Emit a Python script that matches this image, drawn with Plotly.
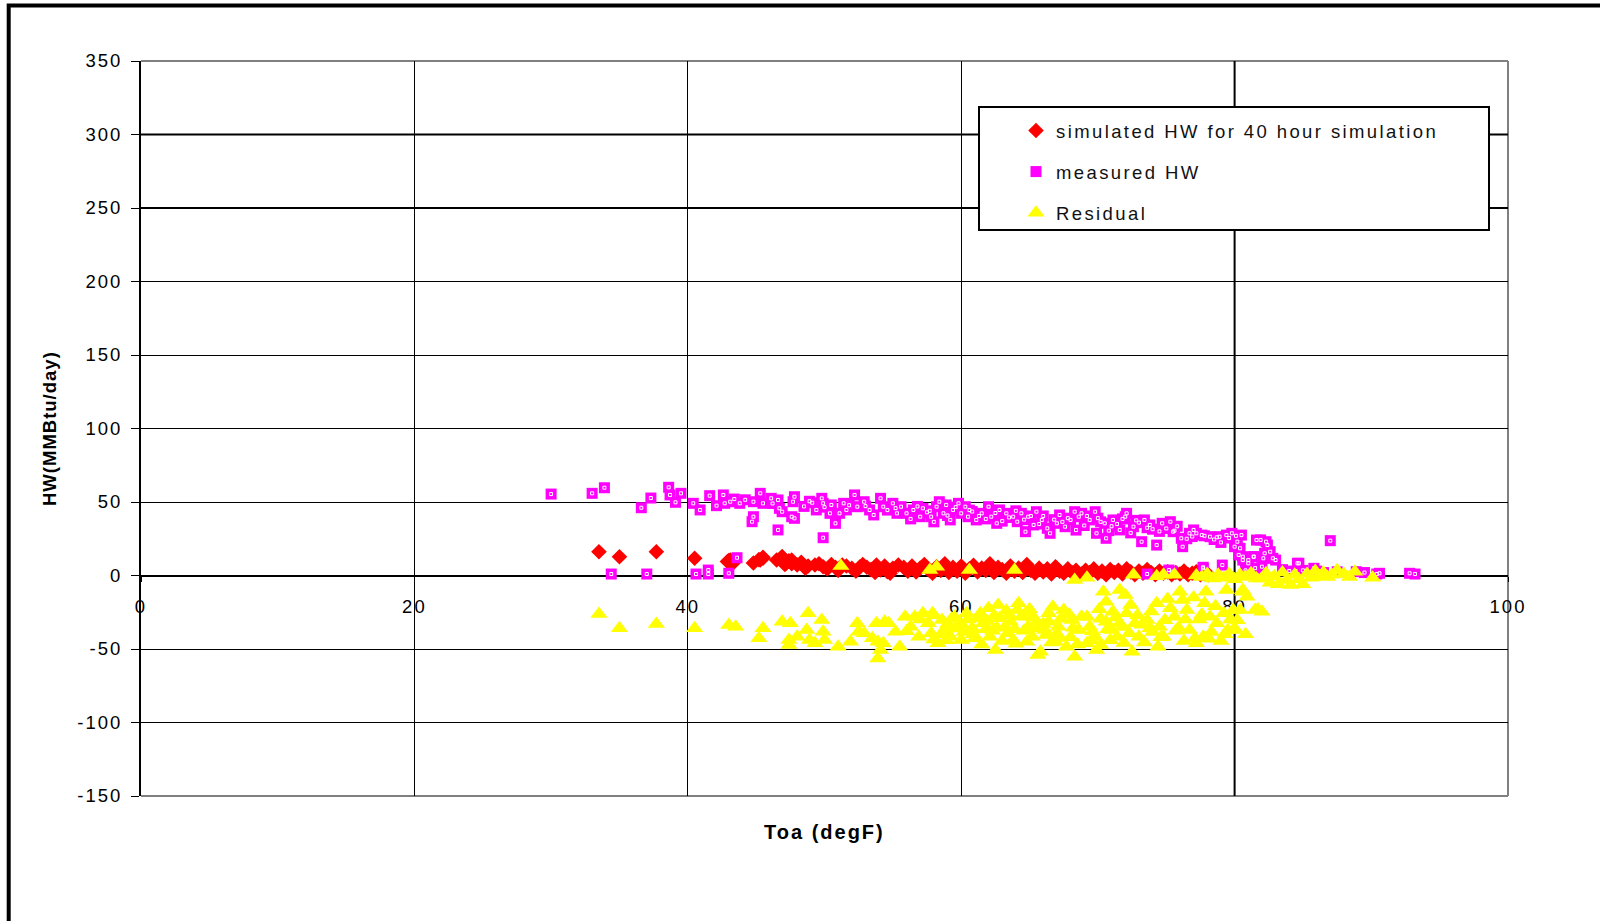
import plotly.graph_objects as go

# Simulated hot-water use (MMBtu/day) vs outdoor air temperature (degF)
sim_x = [33.5, 35.0, 37.7, 40.5, 42.9, 43.0, 43.1, 43.3, 44.8, 45.2, 45.3, 45.5, 45.5, 46.5, 46.9, 46.9,
         47.1, 47.2, 47.4, 47.6, 47.6, 48.0, 48.3, 48.6, 48.8, 49.3, 49.6, 49.9, 50.2, 50.5, 50.8, 51.0,
         51.3, 51.6, 52.0, 52.3, 52.6, 52.8, 53.1, 53.4, 53.7, 53.8, 54.1, 54.4, 54.6, 54.8, 55.0, 55.4,
         55.8, 56.1, 56.4, 56.7, 57.0, 57.3, 57.6, 57.9, 58.2, 58.5, 58.8, 59.1, 59.4, 59.7, 60.0, 60.3,
         60.6, 60.9, 61.2, 61.5, 61.8, 62.1, 62.4, 62.7, 63.0, 63.3, 63.6, 63.9, 64.2, 64.5, 64.8, 65.1,
         65.4, 65.7, 66.0, 66.3, 66.6, 66.9, 67.2, 67.5, 67.8, 68.1, 68.4, 68.8, 69.1, 69.4, 69.7, 70.0,
         70.3, 70.6, 70.9, 71.2, 71.5, 71.8, 72.1, 72.4, 72.7, 73.0, 73.3, 73.6, 73.9, 74.2, 74.5, 74.8,
         75.1, 75.4, 75.7, 76.0, 76.3, 76.6, 76.9, 77.2, 77.5, 77.8, 78.1]
sim_y = [16.2, 12.8, 16.2, 11.7, 9.5, 10.1, 10.5, 8.3, 8.5, 10.8, 10.5, 11.7, 12.4, 10.5, 12.8, 12.8,
         7.5, 8.3, 10.0, 8.0, 10.5, 7.1, 9.0, 5.0, 6.5, 7.1, 8.0, 6.0, 4.5, 7.5, 5.5, 3.5,
         7.1, 6.5, 4.9, 3.0, 6.0, 7.5, 5.6, 4.0, 2.0, 7.1, 3.8, 6.5, 2.6, 1.5, 4.9, 7.1,
         5.5, 3.0, 6.5, 2.5, 5.0, 7.5, 4.0, 1.5, 6.0, 3.5, 8.0, 2.0, 5.5, 3.0, 6.5, 1.5,
         4.5, 7.0, 2.5, 5.0, 3.5, 8.0, 2.0, 5.5, 4.0, 1.5, 6.5, 3.0, 5.0, 2.0, 7.5, 3.5,
         1.5, 5.0, 2.5, 4.5, 1.0, 6.0, 3.0, 1.5, 4.5, 2.0, 3.5, 1.0, 3.5, 2.0, 4.5, 1.5,
         3.0, 0.5, 4.0, 2.0, 3.5, 1.0, 4.5, 2.5, 0.5, 3.0, 1.5, 4.0, 2.0, 0.5, 3.0, 1.5,
         2.5, 0.5, 2.0, 1.0, 3.0, 0.5, 1.5, 2.5, 0.5, 1.5, 0.5]

# Measured hot-water use (MMBtu/day)
meas_x = [30.0, 33.0, 33.9, 36.6, 37.3, 38.6, 38.7, 39.1, 39.5, 40.4, 40.9, 41.6, 42.1,
          34.4, 37.0, 40.6, 41.5, 41.5, 43.0, 43.6,
          42.6, 42.7, 43.1, 43.8, 44.8, 45.3, 45.5, 46.1, 46.6, 46.7, 46.9, 47.7, 47.8, 47.6, 47.8,
          49.1, 49.4, 49.8, 49.9, 50.5, 50.4, 50.8, 51.1, 51.4, 51.6, 52.2, 52.4, 52.9, 53.3, 53.6,
          54.1, 54.3, 55.0, 55.3, 44.7, 44.8, 46.6, 49.9,
          43.4, 44.2, 46.2, 48.5, 48.9, 50.0, 51.8, 53.0, 54.6, 55.2,
          55.6, 56.0, 56.5, 57.0, 57.2, 57.8, 58.2, 58.4, 58.7, 58.9, 59.2, 59.4, 59.8, 60.0, 60.3,
          60.5, 61.1, 61.5, 62.0, 62.2, 62.6, 62.8, 63.3, 63.8, 64.1, 64.4, 64.7, 64.9, 65.3, 65.5,
          65.9, 66.3, 66.5, 67.0, 67.2, 67.6, 68.0, 68.3, 68.4,
          56.3, 57.5, 58.0, 59.0, 60.8, 61.8, 63.0, 64.0, 66.0, 67.8,
          56.8, 57.7, 59.6, 60.6, 61.3, 62.5, 63.5, 64.6, 65.1, 65.7, 66.8, 67.4, 68.6,
          68.8, 69.4, 69.8, 69.9, 70.5, 70.6, 71.1, 71.6, 72.0, 72.1, 72.6, 73.2, 73.4, 73.8, 74.3,
          74.7, 75.3, 75.5, 76.1, 76.2, 76.7, 77.2, 77.6, 78.2, 78.9, 79.4, 79.8, 80.0, 80.3, 80.5,
          80.6, 81.0, 81.4, 81.6,
          69.0, 70.0, 70.8, 71.4, 72.4, 73.0, 74.0, 75.0, 75.8, 76.5, 77.0, 78.5, 79.0,
          69.2, 70.2, 71.0, 71.8, 72.8, 73.6, 74.5, 75.6, 76.9, 77.8, 78.7, 79.6, 80.1,
          73.6, 75.2, 75.4, 77.7, 77.7, 79.1,
          80.2, 80.4, 80.6, 81.0, 81.4, 81.9, 82.4, 82.6, 83.0, 82.1, 82.2, 82.3, 82.8, 84.7,
          84.6, 87.0, 85.8, 86.0, 88.9, 90.4, 90.6, 92.8, 93.2, 83.5, 84.0, 85.0, 86.5, 87.5,
          89.5, 82.0, 81.5, 80.8]
meas_y = [55.4, 55.9, 59.7, 46.1, 52.7, 60.0, 54.8, 49.8, 55.9, 49.1, 44.6, 54.3, 47.5,
          1.0, 1.0, 1.0, 3.7, 1.0, 1.5, 12.1,
          54.8, 49.1, 50.2, 49.1, 50.2, 55.9, 49.1, 52.5, 51.4, 45.7, 43.4, 50.2, 53.6, 40.0, 38.9,
          49.5, 44.6, 52.5, 49.1, 48.0, 42.3, 35.5, 42.3, 49.1, 44.6, 54.8, 46.8, 50.2, 44.6, 41.2,
          52.5, 46.8, 49.1, 42.3, 36.6, 40.0, 31.0, 25.7,
          52.0, 51.5, 49.0, 47.0, 50.5, 46.5, 47.8, 47.2, 44.5, 45.8,
          46.8, 42.3, 44.6, 40.0, 45.7, 40.0, 46.8, 50.2, 42.3, 48.0, 37.8, 44.6, 49.1, 42.3, 46.8,
          40.0, 37.8, 42.3, 46.8, 40.0, 35.5, 44.6, 42.3, 40.0, 36.6, 42.3, 29.8, 40.0, 34.4, 43.4,
          37.8, 32.1, 28.7, 35.5, 41.2, 33.2, 37.8, 43.4, 30.9,
          38.5, 43.0, 36.5, 40.8, 43.5, 38.5, 37.0, 44.0, 40.5, 39.0,
          47.0, 44.0, 46.5, 44.5, 40.5, 42.5, 39.5, 38.0, 40.5, 35.0, 38.0, 36.5, 40.0,
          42.3, 37.8, 43.4, 28.7, 35.5, 25.3, 37.8, 31.0, 40.0, 42.3, 33.2, 23.0, 37.8, 34.4, 20.7,
          35.5, 36.6, 29.8, 25.3, 19.6, 28.7, 28.7, 27.5, 26.4, 26.4, 27.5, 28.7, 19.6, 14.0, 27.5,
          10.5, 8.3, 12.8, 24.1,
          34.0, 39.0, 30.5, 35.0, 29.0, 36.0, 31.5, 32.0, 33.5, 25.0, 31.0, 24.5, 22.5,
          40.5, 36.5, 33.5, 38.5, 37.5, 32.5, 30.0, 30.5, 26.5, 27.0, 26.0, 25.5, 27.0,
          1.0, 3.7, 2.6, 5.6, 4.9, 7.1,
          23.0, 18.5, 12.8, 10.5, 12.8, 24.2, 20.7, 16.2, 10.5, 11.7, 15.1, 23.0, 11.7, 8.3,
          8.3, 23.7, 4.9, 3.0, 2.6, 1.0, 1.5, 1.5, 1.0, 4.0, 3.0, 3.5, 2.0, 2.5,
          2.0, 6.0, 5.0, 3.5]

# Residual (MMBtu/day)
resid_x = [33.5, 35.0, 37.7, 40.5,
           43.0, 43.5, 45.5, 45.2, 46.9, 47.5, 47.4, 47.4, 48.0, 48.8, 48.7, 48.9, 49.3, 49.8,
           49.9, 50.0, 51.0, 51.9, 52.4, 52.5, 52.9, 53.5, 53.8, 53.9, 54.1, 53.9, 54.4, 54.7,
           54.3, 55.2, 55.5, 51.2,
           55.9, 56.3, 56.6, 56.9, 57.2, 57.6, 57.8, 57.9, 58.3, 58.6, 58.8, 59.2, 59.5, 59.8,
           60.0, 60.4, 60.8, 61.0, 61.4, 61.6, 62.0, 62.1, 62.5, 62.7, 62.8, 63.2, 63.4, 63.8,
           64.2, 64.4, 64.7, 64.9, 65.2, 65.5, 65.8, 66.1, 66.4, 66.7, 66.9, 67.1, 67.5, 67.7,
           68.1, 68.3, 68.6, 65.6,
           56.0, 57.0, 58.0, 59.0, 60.2, 61.2, 62.3, 63.5, 64.0, 65.0, 66.2, 67.3, 68.0,
           57.7, 58.2, 60.6, 63.9, 68.3,
           70.4, 70.6, 71.1, 71.6, 72.0, 69.2, 69.4, 69.8, 70.2, 70.6, 71.0, 71.4, 71.6, 72.1,
           72.3, 72.5, 72.7, 73.0, 73.6, 73.8, 74.3, 74.5, 74.8, 74.4, 75.3, 75.6, 76.0, 76.2,
           76.5, 76.7, 77.1, 77.2, 77.7, 77.8, 77.9, 78.2, 78.7, 79.2, 79.4, 79.5, 79.9, 80.0,
           80.6, 80.9, 81.5, 69.2, 69.9,
           80.4, 80.6, 79.9, 81.7,
           60.5, 61.8, 62.4, 63.0, 63.6, 64.6, 65.3, 66.0, 66.6, 67.0, 67.9, 68.5, 69.6, 70.2,
           70.9, 71.8, 72.9, 73.4, 74.0, 74.9, 75.9, 76.3, 77.4, 78.3, 79.0, 79.7, 59.5, 58.9,
           61.5, 64.1,
           58.0, 58.5, 59.3, 60.0, 60.9, 61.9, 62.6, 63.3, 63.9, 64.8, 65.6, 66.4, 67.2, 68.2,
           68.8, 69.5, 70.1, 70.7, 71.3, 71.9, 72.4, 73.2, 73.9, 74.6, 75.1, 75.7, 76.4, 77.0,
           77.6, 78.1, 78.6, 79.3, 80.2, 80.8,
           69.2, 72.6, 74.3, 74.8, 75.6, 77.2, 77.6, 78.0, 78.4, 78.8, 79.2, 79.6, 80.0, 80.4,
           80.8, 81.2, 81.6,
           82.0, 82.3, 82.6, 82.9, 83.2, 83.5, 83.8, 84.1, 84.4, 84.7, 85.0, 85.3, 85.6, 85.9,
           86.2, 86.5, 86.8, 87.1, 87.5, 88.0, 88.4, 88.8, 90.1, 82.0]
resid_y = [-26.2, -35.9, -33.0, -35.9,
           -33.7, -34.8, -35.9, -42.7, -31.4, -32.5, -43.9, -47.3, -41.6, -25.7, -37.1, -43.9, -46.1, -30.3,
           -38.2, -43.9, -48.4, -45.0, -32.5, -38.2, -39.3, -42.7, -32.5, -45.0, -50.7, -56.4, -31.4, -32.5,
           -46.1, -38.2, -48.4, 6.5,
           -28.0, -34.8, -28.0, -41.6, -25.7, -32.5, -39.3, -25.7, -46.1, -30.3, -37.1, -41.6, -28.0, -34.8,
           -43.9, -25.7, -35.9, -42.7, -25.7, -32.5, -22.3, -41.6, -50.7, -20.1, -29.1, -34.8, -39.3, -43.9,
           -18.9, -28.0, -25.7, -34.8, -41.6, -31.4, -51.8, -37.1, -25.7, -21.2, -45.0, -34.8, -23.5, -48.4,
           -30.3, -55.2, -37.1, -54.0,
           -38.0, -30.0, -43.5, -33.0, -38.5, -29.0, -37.5, -27.0, -46.5, -23.0, -40.5, -29.5, -42.0,
           3.7, 6.0, 3.7, 3.7, -3.1,
           -11.0, -17.8, -24.6, -9.9, -13.3, -28.0, -34.8, -41.6, -47.3, -31.4, -37.1, -41.6, -32.5, -25.7,
           -39.3, -51.8, -32.5, -41.6, -30.3, -35.9, -18.9, -34.8, -41.6, -48.4, -22.3, -28.0, -11.0, -16.7,
           -23.5, -37.1, -42.7, -46.1, -41.6, -18.9, -11.0, -28.0, -32.5, -25.7, -9.9, -37.1, -23.5, -35.9,
           -9.9, -14.4, -23.5, -46.1, -50.7,
           -23.5, -11.0, -37.1, -22.9,
           -30.0, -36.5, -27.5, -44.5, -31.5, -37.5, -28.5, -33.0, -45.5, -39.5, -26.5, -47.0, -38.0, -29.5,
           -44.0, -35.0, -27.0, -45.5, -38.5, -30.5, -35.5, -44.5, -30.0, -38.5, -44.5, -30.0, -36.0, -44.0,
           -47.0, -23.5,
           -27.0, -40.0, -29.5, -33.0, -40.0, -31.0, -35.5, -24.0, -36.5, -45.0, -36.0, -31.5, -42.5, -35.5,
           -28.0, -44.0, -23.0, -36.5, -28.5, -46.0, -20.0, -33.5, -24.5, -42.0, -16.0, -37.5, -30.0, -15.0,
           -26.5, -43.0, -21.0, -40.0, -30.5, -40.0,
           -1.5, 0.5, -0.5, 0.5, 0.5, 0.0, -1.0, 1.0, -2.0, 0.5, -1.5, 1.0, -2.5, 0.5,
           -1.0, 1.5, -2.0,
           -2.0, 1.5, -5.0, -0.5, -6.0, 2.0, -3.0, -6.5, 0.5, -2.5, -6.0, 1.0, -1.5, 3.0,
           -0.5, 2.0, -1.0, 0.5, 3.5, 1.0, -1.0, 2.5, -1.5, -24.6]

x_ticks = [0, 20, 40, 60, 80, 100]
y_ticks = [-150, -100, -50, 0, 50, 100, 150, 200, 250, 300, 350]

FONT = "Liberation Sans, Arial, sans-serif"

# plot area in pixels: left 141, right 1508, top 61, bottom 796
L, R, T, B = 141, 1508, 61, 796
W, H = R - L, B - T


def px(xp):
    return (xp - L) / W


def py(yp):
    return (B - yp) / H


fig = go.Figure()

fig.add_trace(go.Scatter(
    x=sim_x, y=sim_y, mode="markers", name="simulated HW for 40 hour simulation",
    legendgroup="a",
    marker=dict(symbol="diamond", size=12, color="#FF0000", line=dict(width=0)),
))
fig.add_trace(go.Scatter(
    x=meas_x, y=meas_y, mode="markers", name="measured HW", legendgroup="b",
    marker=dict(symbol="square", size=11, color="#FF00FF", line=dict(width=0)),
))
# white inner highlight of the square markers
fig.add_trace(go.Scatter(
    x=meas_x, y=meas_y, mode="markers", showlegend=False, hoverinfo="skip",
    legendgroup="b",
    marker=dict(symbol="square-open", size=3, color="#FFFFFF", line=dict(width=1, color="#FFFFFF")),
))
fig.add_trace(go.Scatter(
    x=resid_x, y=resid_y, mode="markers", name="Residual", legendgroup="c",
    marker=dict(symbol="triangle-up", size=15, color="#FFFF00", line=dict(width=0)),
))

shapes = [
    # plot-area frame (grey)
    dict(type="line", xref="paper", yref="paper", x0=0, x1=1, y0=1, y1=1,
         line=dict(color="#808080", width=2), layer="between"),
    dict(type="line", xref="paper", yref="paper", x0=0, x1=1, y0=0, y1=0,
         line=dict(color="#808080", width=2), layer="between"),
    dict(type="line", xref="paper", yref="paper", x0=1, x1=1, y0=0, y1=1,
         line=dict(color="#808080", width=2), layer="between"),
    # heavier grid lines
    dict(type="line", xref="paper", yref="y", x0=0, x1=1, y0=300, y1=300,
         line=dict(color="black", width=2), layer="between"),
    dict(type="line", xref="paper", yref="y", x0=0, x1=1, y0=250, y1=250,
         line=dict(color="black", width=2), layer="between"),
    dict(type="line", xref="x", yref="paper", x0=80, x1=80, y0=0, y1=1,
         line=dict(color="black", width=2), layer="between"),
    # legend box
    dict(type="rect", xref="paper", yref="paper",
         x0=px(979), x1=px(1489), y0=py(230), y1=py(107),
         line=dict(color="black", width=2), fillcolor="white", layer="above"),
    # outer chart border
    dict(type="rect", xref="paper", yref="paper",
         x0=px(8.7), x1=px(1700), y0=py(1000), y1=py(5.5),
         line=dict(color="black", width=4), fillcolor="rgba(0,0,0,0)", layer="above"),
]

fig.update_layout(
    width=1600, height=921,
    margin=dict(l=L, r=1600 - R, t=T, b=921 - B, pad=0),
    paper_bgcolor="white", plot_bgcolor="white",
    font=dict(family=FONT, size=18.5, color="black"),
    showlegend=True,
    legend=dict(
        x=px(1016), y=py(112), xanchor="left", yanchor="top",
        bgcolor="rgba(0,0,0,0)", borderwidth=0,
        font=dict(family=FONT, size=18.5, color="#111111"),
        tracegroupgap=14, itemsizing="trace",
    ),
    shapes=shapes,
    annotations=[
        dict(text="<b>Toa (degF)</b>", xref="paper", yref="paper",
             x=0.5, y=py(832), xanchor="center", yanchor="middle", showarrow=False,
             font=dict(family=FONT, size=20, color="black")),
        dict(text="<b>HW(MMBtu/day)</b>", xref="paper", yref="paper",
             x=px(49), y=0.5, xanchor="center", yanchor="middle", showarrow=False,
             textangle=-90, font=dict(family=FONT, size=18.5, color="black")),
    ],
)

fig.update_xaxes(
    range=[0, 100], tickvals=x_ticks, ticktext=[str(v) for v in x_ticks],
    showgrid=True, gridcolor="black", gridwidth=1,
    zeroline=False,
    anchor="free", position=0.3,
    showline=True, linecolor="black", linewidth=2,
    ticks="outside", ticklen=5, tickcolor="black", tickwidth=1,
    ticklabelstandoff=9,
    tickfont=dict(family=FONT, size=18.5, color="black"),
    layer="below traces",
)
fig.update_yaxes(
    range=[-150, 350], tickvals=y_ticks, ticktext=[str(v) for v in y_ticks],
    showgrid=True, gridcolor="black", gridwidth=1,
    zeroline=False,
    showline=True, linecolor="black", linewidth=2,
    ticks="outside", ticklen=8, tickcolor="black", tickwidth=1,
    ticklabelstandoff=5,
    tickfont=dict(family=FONT, size=18.5, color="black"),
    layer="below traces",
)

spacing_css = """
var st = document.createElement('style');
st.textContent = '.xtick text, .ytick text {letter-spacing: 2px;} ' +
  '.legendtext {letter-spacing: 2.4px;} ' +
  '.legend .scrollbox, .legend {clip-path: none !important;} ' +
  '.annotation[data-index="0"] .annotation-text {letter-spacing: 2px;} ' +
  '.annotation[data-index="1"] .annotation-text {letter-spacing: 1px;}';
document.head.appendChild(st);
"""

fig.write_html("out.html", post_script=spacing_css)
